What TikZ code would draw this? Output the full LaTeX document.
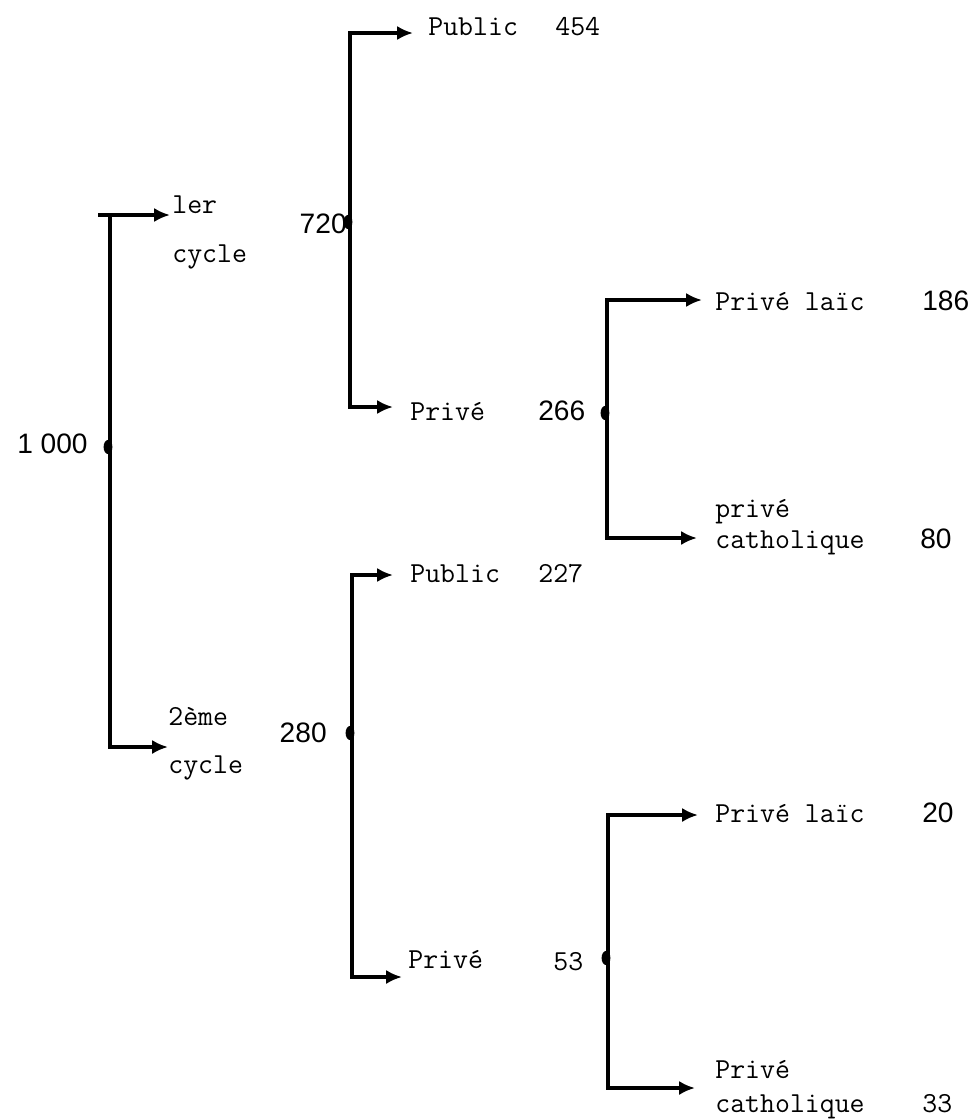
\documentclass[tikz,border=0pt]{standalone}
\usepackage{fontspec}
\setsansfont{Liberation Sans}
\usepackage{tikz}
\usetikzlibrary{arrows.meta,shapes.geometric}

\begin{document}
\begin{tikzpicture}[x=0.02cm, y=-0.02cm,
		flow/.style={line width=2.2pt, {Latex[length=9pt,width=8pt]}-{Latex[length=9pt,width=8pt]}},
		knot/.style={ellipse, fill=black, inner sep=0pt, minimum width=5pt, minimum height=8pt},
		lbl/.style={font=\fontsize{16.5}{20}\selectfont\ttfamily, inner sep=0pt, anchor=base west},
		num/.style={font=\fontsize{16}{19}\selectfont\sffamily, inner sep=0pt, anchor=base west},
		tnum/.style={lbl}]
					\useasboundingbox (0,0) rectangle (971,1120);
					\coordinate (c1up) at (110,215);	\coordinate (c1dn) at (110,747);
					\coordinate (c1a) at (170,215);	\coordinate (c1b) at (168,747);
					\coordinate (c1stub) at (98,215);
					\coordinate (c2up) at (350,33);	\coordinate (c2dn) at (350,407);
					\coordinate (c2a) at (413,33);	\coordinate (c2b) at (393,407);
					\coordinate (c3up) at (607,300);	\coordinate (c3dn) at (607,538);
					\coordinate (c3a) at (702,300);	\coordinate (c3b) at (697,538);
					\coordinate (c4up) at (352,575);	\coordinate (c4dn) at (352,977);
					\coordinate (c4a) at (393,575);	\coordinate (c4b) at (402,977);
					\coordinate (c5up) at (608,815);	\coordinate (c5dn) at (608,1088);
					\coordinate (c5a) at (698,815);	\coordinate (c5b) at (695,1088);
					\draw[flow] (c1a) -- (c1up) -- (c1dn) -- (c1b);
					\draw[line width=2.2pt] (c1stub) -- (c1up);
					\draw[flow] (c2a) -- (c2up) -- (c2dn) -- (c2b);
					\draw[flow] (c3a) -- (c3up) -- (c3dn) -- (c3b);
					\draw[flow] (c4a) -- (c4up) -- (c4dn) -- (c4b);
					\draw[flow] (c5a) -- (c5up) -- (c5dn) -- (c5b);
					\node[knot] (k1) at (108,447) {};
					\node[knot] (k2) at (348,222) {};
					\node[knot] (k3) at (605,413) {};
					\node[knot] (k4) at (350,733) {};
					\node[knot] (k5) at (606,958) {};
					\node[num, anchor=base east] (tot) at (88,453) {1 000};
					\node[lbl] (cyc1) at (172,213) {ler};
					\node[lbl] (cyc1b) at (172,262) {cycle};
					\node[lbl] (cyc2) at (168,725) {2ème};
					\node[lbl] (cyc2b) at (168,773) {cycle};
					\node[num, anchor=base east] (tot1) at (347,233) {720};
					\node[lbl] (pub1) at (428,35) {Public};
					\node[tnum] (pub1n) at (555,35) {454};
					\node[lbl] (prv1) at (410,420) {Privé};
					\node[num] (prv1n) at (538,420) {266};
					\node[lbl] (lai1) at (715,310) {Privé laïc};
					\node[num] (lai1n) at (922,310) {186};
					\node[lbl] (cat1) at (715,517) {privé};
					\node[lbl] (cat1b) at (715,548) {catholique};
					\node[num] (cat1n) at (920,548) {80};
					\node[num, anchor=base east] (tot2) at (327,742) {280};
					\node[lbl] (pub2) at (410,582) {Public};
					\node[tnum] (pub2n) at (538,582) {227};
					\node[lbl] (prv2) at (408,968) {Privé};
					\node[tnum] (prv2n) at (553,970) {53};
					\node[lbl] (lai2) at (715,822) {Privé laïc};
					\node[num] (lai2n) at (922,822) {20};
					\node[lbl] (cat2) at (715,1078) {Privé};
					\node[lbl] (cat2b) at (715,1112) {catholique};
					\node[tnum] (cat2n) at (922,1112) {33};
\end{tikzpicture}
\end{document}
